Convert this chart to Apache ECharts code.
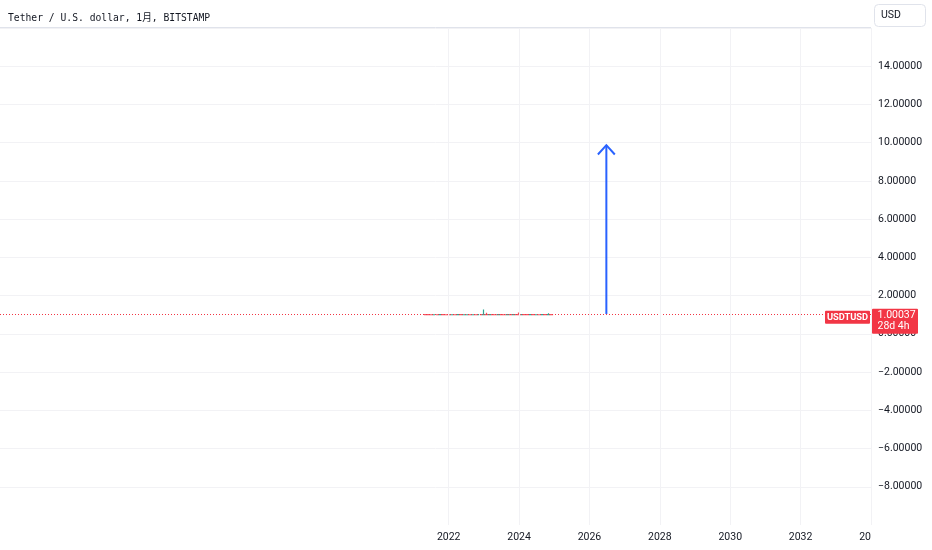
<!DOCTYPE html>
<html>
<head>
<meta charset="utf-8">
<script src="https://cdn.jsdelivr.net/npm/echarts@6/dist/echarts.min.js"></script>
<style>
  html, body { margin: 0; padding: 0; background: #ffffff; }
  #chart { width: 932px; height: 550px; }
</style>
</head>
<body>
<div id="chart"></div>
<script>
// ---- Data ----
const title = 'Tether / U.S. dollar, 1月, BITSTAMP';
const currency = 'USD';
const symbol = 'USDTUSD';
const lastPrice = 1.00037;
const countdown = '28d 4h';

// monthly candles, 2021-05 .. 2024-12
const months = [
  '2021-05','2021-06','2021-07','2021-08','2021-09','2021-10','2021-11','2021-12',
  '2022-01','2022-02','2022-03','2022-04','2022-05','2022-06','2022-07','2022-08',
  '2022-09','2022-10','2022-11','2022-12','2023-01','2023-02','2023-03','2023-04',
  '2023-05','2023-06','2023-07','2023-08','2023-09','2023-10','2023-11','2023-12',
  '2024-01','2024-02','2024-03','2024-04','2024-05','2024-06','2024-07','2024-08',
  '2024-09','2024-10','2024-11','2024-12'
];
const opens = [
  1.0010, 1.0004, 1.0002, 1.0001, 1.0003, 1.0002, 1.0004, 1.0003,
  1.0002, 1.0001, 1.0003, 1.0002, 1.0004, 0.9990, 0.9995, 1.0002,
  1.0001, 1.0003, 1.0002, 1.0004, 1.0001, 1.0006, 1.0002, 1.0004,
  1.0003, 1.0002, 1.0004, 1.0003, 1.0002, 1.0005, 1.0003, 1.0006,
  1.0004, 1.0003, 1.0005, 1.0004, 1.0003, 1.0004, 1.0002, 1.0003,
  1.0002, 1.0004, 1.0001, 1.0005
];
const closes = [
  1.0004, 1.0002, 1.0001, 1.0003, 1.0002, 1.0004, 1.0003, 1.0002,
  1.0001, 1.0003, 1.0002, 1.0004, 0.9990, 0.9995, 1.0002, 1.0001,
  1.0003, 1.0002, 1.0004, 1.0001, 1.0006, 1.0002, 1.0004, 1.0003,
  1.0002, 1.0004, 1.0003, 1.0002, 1.0005, 1.0003, 1.0006, 1.0004,
  1.0003, 1.0005, 1.0004, 1.0003, 1.0004, 1.0002, 1.0003, 1.0002,
  1.0004, 1.0001, 1.0005, 1.0004
];
const lows = [
  0.9960, 0.9975, 0.9980, 0.9982, 0.9978, 0.9985, 0.9980, 0.9983,
  0.9981, 0.9984, 0.9980, 0.9979, 0.9900, 0.9930, 0.9960, 0.9975,
  0.9978, 0.9981, 0.9970, 0.9980, 0.9950, 0.9970, 0.9960, 0.9982,
  0.9984, 0.9985, 0.9983, 0.9986, 0.9984, 0.9985, 0.9987, 0.9984,
  0.9980, 0.9986, 0.9985, 0.9984, 0.9986, 0.9987, 0.9985, 0.9986,
  0.9984, 0.9985, 0.9983, 0.9985
];
const highs = [
  1.0200, 1.0120, 1.0080, 1.0060, 1.0150, 1.0090, 1.0110, 1.0070,
  1.0090, 1.0060, 1.0080, 1.0100, 1.0250, 1.0130, 1.0090, 1.0070,
  1.0100, 1.0080, 1.0150, 1.0090, 1.2700, 1.1000, 1.0400, 1.0120,
  1.0090, 1.0070, 1.0100, 1.0080, 1.0060, 1.0150, 1.0090, 1.0200,
  1.1200, 1.0100, 1.0080, 1.0120, 1.0070, 1.0060, 1.0090, 1.0080,
  1.0110, 1.0070, 1.0800, 1.0150
];

// drawing (arrow) in data units: [year, price]
const arrowShaft = [[2026.48, 1.04], [2026.48, 9.87]];
const arrowHead = [[2026.24, 9.38], [2026.48, 9.87], [2026.72, 9.38]];

// axis ticks
const xTicks = [2022, 2024, 2026, 2028, 2030, 2032, 2034];
const xMin = 2009.25, xMax = 2034;
const yMin = -10, yMax = 16, yStep = 2;

// ---- Build ----
function monthToYear(m) {
  const [y, mo] = m.split('-').map(Number);
  return y + (mo - 1) / 12;
}
const candleData = months.map((m, i) => [monthToYear(m), opens[i], closes[i], lows[i], highs[i]]);

const UP = '#089981', DOWN = '#f23645';
const textColor = '#131722';
const gridColor = '#f2f2f5';
const axisFont = 'Roboto, "Noto Sans", sans-serif';

const chart = echarts.init(document.getElementById('chart'), null, { renderer: 'canvas' });

const option = {
  animation: false,
  backgroundColor: '#ffffff',
  title: {
    text: title,
    left: 3, top: 9,
    textStyle: { fontSize: 9.7, fontWeight: 'normal', color: textColor, fontFamily: '"DejaVu Sans Mono", "Noto Sans CJK SC", monospace' }
  },
  grid: { left: 0, right: 61, top: 28, bottom: 25, containLabel: false },
  xAxis: {
    type: 'value',
    min: xMin, max: xMax,
    axisLine: { show: false },
    axisTick: { show: false, customValues: xTicks },
    splitLine: { show: false },
    axisLabel: {
      customValues: xTicks,
      color: textColor, fontSize: 10.5, fontFamily: axisFont, margin: 7,
      formatter: v => (v === 2034 ? '20\u2007\u2007' : String(v))
    }
  },
  yAxis: {
    type: 'value', position: 'right',
    min: yMin, max: yMax, interval: yStep,
    axisLine: { show: false },
    axisTick: { show: false },
    splitLine: { show: true, showMinLine: false, lineStyle: { color: gridColor, width: 1 } },
    axisLabel: {
      color: textColor, fontSize: 10.5, fontFamily: axisFont, margin: 7, align: 'left',
      showMinLabel: false, showMaxLabel: false,
      formatter: v => (v < 0 ? '\u2212' + Math.abs(v).toFixed(5) : v.toFixed(5))
    }
  },
  series: [
    {
      type: 'candlestick',
      data: candleData,
      encode: { x: 0, y: [1, 2, 3, 4] },
      barWidth: 2.4,
      itemStyle: { color: UP, color0: DOWN, borderColor: UP, borderColor0: DOWN, borderWidth: 1.2, opacity: 0.85 },
      markLine: {
        silent: true, symbol: 'none',
        lineStyle: { color: DOWN, type: [1, 2], width: 1 },
        label: { show: false },
        data: [{ yAxis: lastPrice }]
      },
      z: 4
    },
    {
      // vertical time grid lines at the labelled years
      type: 'line', data: [], silent: true,
      markLine: {
        silent: true, symbol: 'none', label: { show: false },
        lineStyle: { color: gridColor, type: 'solid', width: 1 },
        data: xTicks.map(v => ({ xAxis: v }))
      },
      z: 1
    },
    {
      type: 'line', data: arrowShaft, symbol: 'none', silent: true,
      lineStyle: { color: '#2962ff', width: 2 }, z: 5
    },
    {
      type: 'line', data: arrowHead, symbol: 'none', silent: true,
      lineStyle: { color: '#2962ff', width: 2, join: 'miter' }, z: 5
    }
  ]
};
chart.setOption(option);

// price labels placed at the y of the last price (via the axis scale)
const py = chart.convertToPixel({ yAxisIndex: 0 }, lastPrice);
chart.setOption({
  graphic: [
    // title separator
    { type: 'line', shape: { x1: 0, y1: 27.5, x2: 871, y2: 27.5 }, style: { stroke: '#e0e3eb', lineWidth: 1 }, z: 1, silent: true },
    // USD button
    { type: 'rect', shape: { x: 874.5, y: 4.5, width: 51, height: 22, r: 4 }, style: { fill: '#ffffff', stroke: '#e0e3eb', lineWidth: 1 }, z: 10, silent: true },
    { type: 'text', x: 881, y: 15.5, style: { text: currency, fill: textColor, fontSize: 10.5, fontFamily: axisFont, verticalAlign: 'middle' }, z: 11, silent: true },
    // symbol tag
    { type: 'rect', shape: { x: 825, y: py - 4, width: 45, height: 13, r: 1 }, style: { fill: DOWN }, z: 20, silent: true },
    { type: 'text', x: 847.5, y: py + 2.7, style: { text: symbol, fill: '#ffffff', fontSize: 9.3, fontWeight: 'bold', fontFamily: axisFont, align: 'center', verticalAlign: 'middle' }, z: 21, silent: true },
    // price tag
    { type: 'rect', shape: { x: 872, y: py - 6, width: 46, height: 25, r: 1 }, style: { fill: DOWN }, z: 20, silent: true },
    { type: 'text', x: 877.5, y: py + 0.5, style: { text: lastPrice.toFixed(5), fill: '#ffffff', fontSize: 10.5, fontFamily: axisFont, verticalAlign: 'middle' }, z: 21, silent: true },
    { type: 'text', x: 877.5, y: py + 11.5, style: { text: countdown, fill: '#ffffff', fontSize: 10.5, fontFamily: axisFont, verticalAlign: 'middle' }, z: 21, silent: true }
  ]
});
</script>
</body>
</html>
